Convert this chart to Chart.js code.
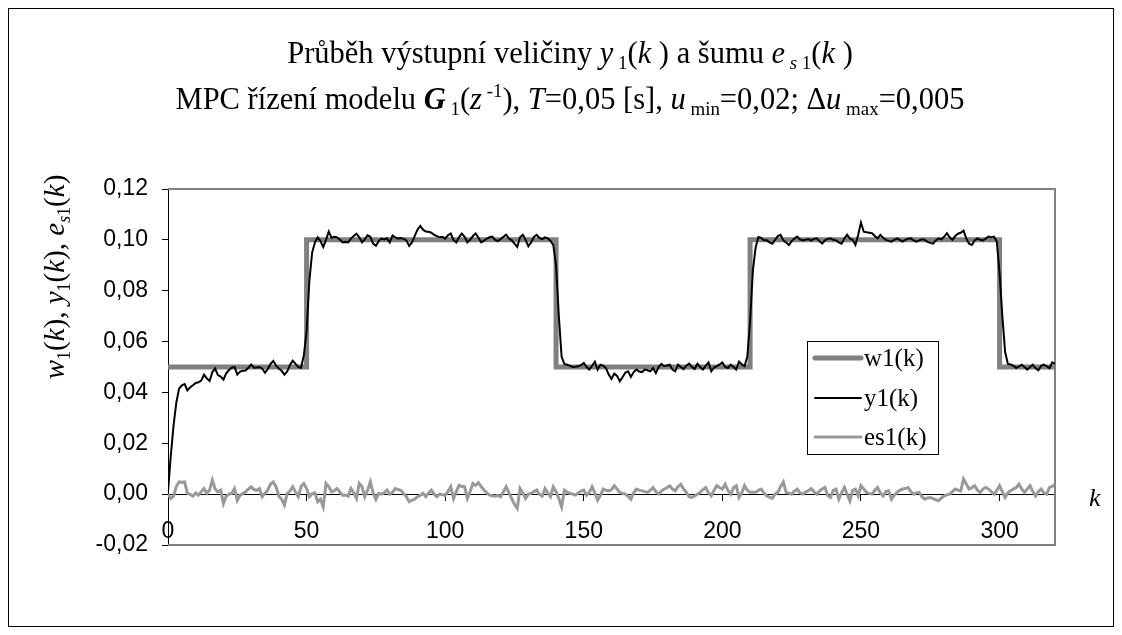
<!DOCTYPE html>
<html>
<head>
<meta charset="utf-8">
<script src="https://cdn.jsdelivr.net/npm/chart.js@4"></script>
<style>
  html, body { margin: 0; padding: 0; background: #fff; }
  #wrap { width: 1122px; height: 635px; }
</style>
</head>
<body>
<div id="wrap"><canvas id="c" width="1122" height="635"></canvas></div>
<script>
// Tick positions
const kAxisTicks = [0, 50, 100, 150, 200, 250, 300];
const yAxisTicks = [-0.02, 0, 0.02, 0.04, 0.06, 0.08, 0.10, 0.12];

// Setpoint w1(k): switching instants and levels
const w1StepK = [0, 50, 140, 210, 300, 320];
const w1Level = [0.05, 0.10, 0.05, 0.10, 0.05, 0.05];

// Output y1(k), k = 0..320
const y1 = [
  0.0010, 0.0150, 0.0270, 0.0360, 0.0415, 0.0428, 0.0433, 0.0408, 0.0420, 0.0428,
  0.0437, 0.0440, 0.0447, 0.0470, 0.0455, 0.0445, 0.0480, 0.0494, 0.0468, 0.0462,
  0.0450, 0.0475, 0.0488, 0.0497, 0.0500, 0.0470, 0.0482, 0.0485, 0.0486, 0.0497,
  0.0510, 0.0497, 0.0498, 0.0500, 0.0493, 0.0477, 0.0492, 0.0512, 0.0524, 0.0505,
  0.0494, 0.0485, 0.0470, 0.0482, 0.0508, 0.0525, 0.0512, 0.0500, 0.0497, 0.0545,
  0.0640, 0.0840, 0.0950, 0.0990, 0.1010, 0.0995, 0.0972, 0.1000, 0.1033, 0.1008,
  0.1012, 0.1010, 0.1000, 0.0990, 0.0992, 0.0990, 0.1005, 0.1015, 0.1024, 0.1010,
  0.0990, 0.1002, 0.1018, 0.1012, 0.0985, 0.0977, 0.0995, 0.1005, 0.1002, 0.1006,
  0.0990, 0.1017, 0.1010, 0.1005, 0.1007, 0.1004, 0.0998, 0.0976, 0.0990, 0.1015,
  0.1040, 0.1055, 0.1040, 0.1033, 0.1032, 0.1028, 0.1020, 0.1015, 0.1010, 0.1012,
  0.1005, 0.1018, 0.1025, 0.1000, 0.0990, 0.1010, 0.1025, 0.1012, 0.0990, 0.1000,
  0.1015, 0.1025, 0.1008, 0.0990, 0.0997, 0.1005, 0.1010, 0.1013, 0.1000, 0.0995,
  0.1003, 0.1012, 0.1020, 0.1005, 0.0998, 0.0985, 0.0972, 0.1010, 0.1020, 0.1000,
  0.0975, 0.0990, 0.1012, 0.1020, 0.1008, 0.1003, 0.1010, 0.1006, 0.0996, 0.0980,
  0.0900, 0.0700, 0.0540, 0.0512, 0.0509, 0.0505, 0.0500, 0.0501, 0.0503, 0.0507,
  0.0516, 0.0500, 0.0490, 0.0505, 0.0521, 0.0490, 0.0509, 0.0505, 0.0496, 0.0470,
  0.0453, 0.0474, 0.0465, 0.0444, 0.0460, 0.0478, 0.0483, 0.0461, 0.0480, 0.0490,
  0.0482, 0.0480, 0.0490, 0.0487, 0.0483, 0.0496, 0.0476, 0.0500, 0.0512, 0.0503,
  0.0506, 0.0509, 0.0490, 0.0483, 0.0509, 0.0500, 0.0492, 0.0505, 0.0513, 0.0500,
  0.0492, 0.0513, 0.0500, 0.0490, 0.0505, 0.0518, 0.0483, 0.0498, 0.0503, 0.0510,
  0.0518, 0.0500, 0.0496, 0.0509, 0.0500, 0.0490, 0.0521, 0.0510, 0.0503, 0.0540,
  0.0680, 0.0880, 0.0970, 0.1011, 0.1008, 0.0998, 0.0998, 0.0990, 0.0985, 0.1000,
  0.1015, 0.1020, 0.0998, 0.0990, 0.0980, 0.0995, 0.1005, 0.1013, 0.1002, 0.0998,
  0.1000, 0.1003, 0.0997, 0.1004, 0.1006, 0.0995, 0.0985, 0.0998, 0.1004, 0.1006,
  0.1000, 0.0998, 0.0990, 0.0985, 0.1005, 0.1020, 0.1005, 0.1000, 0.0980, 0.1020,
  0.1068, 0.1032, 0.1030, 0.1028, 0.1026, 0.1015, 0.1006, 0.1020, 0.1008, 0.1000,
  0.0996, 0.0993, 0.1000, 0.1006, 0.1000, 0.0993, 0.1000, 0.1004, 0.1006, 0.0998,
  0.0993, 0.0998, 0.1002, 0.1000, 0.0992, 0.0988, 0.0985, 0.0998, 0.1006, 0.1002,
  0.1012, 0.1026, 0.1010, 0.1000, 0.1015, 0.1024, 0.1028, 0.1036, 0.1005, 0.0985,
  0.0980, 0.0998, 0.1006, 0.1000, 0.0998, 0.1005, 0.1013, 0.1010, 0.1013, 0.0993,
  0.0870, 0.0700, 0.0560, 0.0512, 0.0510, 0.0505, 0.0496, 0.0502, 0.0509, 0.0500,
  0.0490, 0.0500, 0.0509, 0.0495, 0.0487, 0.0505, 0.0509, 0.0503, 0.0495, 0.0518,
  0.0512
];

// Measurement noise es1(k), k = 0..320
const es1 = [
  0.0000, -0.0017, -0.0008, 0.0030, 0.0048, 0.0047, 0.0048, 0.0003, -0.0001, -0.0008,
  0.0004, -0.0004, 0.0010, 0.0022, 0.0003, 0.0016, 0.0055, 0.0020, 0.0009, 0.0016,
  -0.0037, -0.0008, 0.0000, 0.0003, 0.0022, -0.0024, -0.0004, 0.0002, 0.0009, 0.0020,
  0.0029, 0.0018, 0.0015, 0.0022, -0.0010, 0.0004, 0.0016, 0.0040, 0.0048, 0.0029,
  -0.0008, -0.0020, -0.0043, 0.0003, 0.0012, 0.0029, 0.0008, -0.0010, 0.0030, 0.0042,
  0.0022, -0.0010, 0.0002, 0.0005, -0.0030, -0.0020, -0.0050, 0.0042, 0.0030, 0.0009,
  0.0014, 0.0022, 0.0008, -0.0004, -0.0003, -0.0008, 0.0022, 0.0006, -0.0017, 0.0042,
  0.0029, -0.0010, 0.0015, 0.0048, 0.0005, -0.0021, 0.0003, 0.0000, 0.0005, 0.0016,
  0.0000, 0.0008, 0.0022, 0.0018, 0.0015, 0.0003, -0.0010, -0.0030, -0.0024, -0.0020,
  -0.0010, -0.0005, 0.0003, -0.0010, 0.0004, 0.0016, 0.0000, -0.0010, 0.0000, -0.0002,
  -0.0004, 0.0010, 0.0029, -0.0017, 0.0010, 0.0035, 0.0030, 0.0029, -0.0017, 0.0010,
  0.0042, 0.0035, 0.0045, 0.0030, 0.0016, 0.0005, -0.0004, -0.0006, -0.0008, -0.0005,
  -0.0010, 0.0010, 0.0029, 0.0005, -0.0017, -0.0040, -0.0056, 0.0022, 0.0005, -0.0017,
  0.0000, 0.0003, 0.0010, 0.0016, 0.0000, -0.0008, 0.0022, 0.0005, -0.0010, 0.0029,
  0.0010, -0.0017, -0.0050, 0.0016, 0.0008, 0.0003, 0.0000, -0.0004, 0.0005, 0.0012,
  0.0016, -0.0004, 0.0007, 0.0029, 0.0005, -0.0024, -0.0005, 0.0020, 0.0015, 0.0013,
  0.0018, 0.0033, 0.0020, 0.0007, 0.0003, 0.0000, -0.0008, -0.0020, 0.0005, 0.0020,
  0.0016, 0.0013, 0.0010, 0.0007, 0.0015, 0.0026, 0.0010, 0.0000, 0.0012, 0.0020,
  0.0025, 0.0033, 0.0020, 0.0013, 0.0030, 0.0039, 0.0020, 0.0007, -0.0010, -0.0013,
  -0.0007, 0.0000, 0.0007, 0.0018, 0.0026, 0.0005, -0.0007, 0.0015, 0.0033, 0.0025,
  0.0020, 0.0039, 0.0015, 0.0000, 0.0025, 0.0033, -0.0013, 0.0005, 0.0033, 0.0015,
  0.0007, 0.0007, 0.0007, 0.0015, 0.0020, 0.0005, -0.0007, -0.0012, -0.0017, 0.0000,
  0.0007, 0.0030, 0.0048, 0.0007, 0.0004, 0.0000, 0.0012, 0.0020, 0.0005, 0.0000,
  0.0008, 0.0013, 0.0022, 0.0010, 0.0000, 0.0012, 0.0020, 0.0026, -0.0005, -0.0013,
  0.0015, 0.0020, -0.0020, 0.0005, 0.0026, 0.0000, -0.0026, 0.0015, 0.0020, -0.0007,
  0.0033, 0.0020, 0.0007, 0.0003, 0.0000, 0.0015, 0.0026, 0.0005, -0.0007, 0.0010,
  0.0013, -0.0020, -0.0005, 0.0007, 0.0015, 0.0020, 0.0022, 0.0026, 0.0010, 0.0000,
  0.0005, 0.0007, -0.0010, -0.0020, -0.0015, -0.0013, -0.0018, -0.0022, -0.0026, -0.0015,
  -0.0007, -0.0003, 0.0000, 0.0010, 0.0020, 0.0016, 0.0013, 0.0060, 0.0040, 0.0020,
  0.0025, 0.0033, 0.0015, 0.0007, 0.0020, 0.0026, 0.0020, 0.0010, 0.0000, 0.0015,
  0.0033, 0.0010, -0.0013, 0.0005, 0.0013, 0.0020, 0.0026, 0.0039, 0.0020, 0.0007,
  0.0020, 0.0033, 0.0010, -0.0007, 0.0010, 0.0020, 0.0005, 0.0000, 0.0026, 0.0030,
  0.0039
];

const seriesNames = ['w1(k)', 'y1(k)', 'es1(k)'];

const SERIF = '"Liberation Serif", "Times New Roman", serif';
const SANS = '"Liberation Sans", Arial, sans-serif';

// Rich-text helpers (italics, sub- and superscripts)
function fontOf(style, size) { return (style ? style + ' ' : '') + size + 'px ' + SERIF; }
function runsWidth(ctx, runs, base) {
  let w = 0;
  for (const r of runs) { ctx.font = fontOf(r.s, base * (r.z || 1)); w += ctx.measureText(r.t).width; }
  return w;
}
function drawRuns(ctx, runs, x, y, base) {
  let cx = x;
  for (const r of runs) {
    ctx.font = fontOf(r.s, base * (r.z || 1));
    ctx.fillText(r.t, cx, y + (r.dy || 0) * base);
    cx += ctx.measureText(r.t).width;
  }
}
const SUB = { z: 0.62, dy: 0.2 };
const SUP = { z: 0.62, dy: -0.4 };

const titleLine1 = [
  { t: 'Průběh výstupní veličiny ' }, { t: 'y', s: 'italic' }, { t: ' 1', ...SUB },
  { t: '(' }, { t: 'k', s: 'italic' }, { t: ' ) a šumu ' }, { t: 'e', s: 'italic' },
  { t: ' s', s: 'italic', ...SUB }, { t: ' 1', ...SUB }, { t: '(' }, { t: 'k', s: 'italic' }, { t: ' )' }
];
const titleLine2 = [
  { t: 'MPC řízení modelu ' }, { t: 'G', s: 'italic bold' }, { t: ' 1', ...SUB },
  { t: '(' }, { t: 'z', s: 'italic' }, { t: ' -1', ...SUP }, { t: '), ' },
  { t: 'T', s: 'italic' }, { t: '=0,05 [s], ' }, { t: 'u', s: 'italic' }, { t: ' min', ...SUB },
  { t: '=0,02; Δ' }, { t: 'u', s: 'italic' }, { t: ' max', ...SUB }, { t: '=0,005' }
];
const yTitle = [
  { t: 'w', s: 'italic' }, { t: '1', ...SUB }, { t: '(' }, { t: 'k', s: 'italic' }, { t: '), ' },
  { t: 'y', s: 'italic' }, { t: '1', ...SUB }, { t: '(' }, { t: 'k', s: 'italic' }, { t: '), ' },
  { t: 'e', s: 'italic' }, { t: 's', s: 'italic', ...SUB }, { t: '1', ...SUB }, { t: '(' }, { t: 'k', s: 'italic' }, { t: ')' }
];

const decor = {
  id: 'decor',
  beforeDraw(chart) {
    const ctx = chart.ctx;
    ctx.save();
    ctx.fillStyle = '#fff';
    ctx.fillRect(0, 0, chart.width, chart.height);
    ctx.strokeStyle = '#000';
    ctx.lineWidth = 1;
    ctx.strokeRect(8.5, 8.5, 1105, 618);
    ctx.restore();
  },
  beforeDatasetsDraw(chart) {
    const { ctx, chartArea: a } = chart;
    ctx.save();
    ctx.strokeStyle = '#808080';
    ctx.lineWidth = 2;
    ctx.beginPath();
    ctx.moveTo(a.left, a.top);
    ctx.lineTo(a.right, a.top);
    ctx.lineTo(a.right, a.bottom);
    ctx.lineTo(a.left, a.bottom);
    ctx.stroke();
    ctx.restore();
  },
  afterDraw(chart) {
    const ctx = chart.ctx;
    ctx.save();
    ctx.fillStyle = '#000';
    ctx.textBaseline = 'alphabetic';
    ctx.textAlign = 'left';

    // Two-line title
    const tBase = 30.5, cx = 570;
    drawRuns(ctx, titleLine1, cx - runsWidth(ctx, titleLine1, tBase) / 2, 63, tBase);
    drawRuns(ctx, titleLine2, cx - runsWidth(ctx, titleLine2, tBase) / 2, 109, tBase);

    // Rotated y-axis title
    const yBase = 29;
    ctx.save();
    ctx.translate(64, 277);
    ctx.rotate(-Math.PI / 2);
    drawRuns(ctx, yTitle, -runsWidth(ctx, yTitle, yBase) / 2, 0, yBase);
    ctx.restore();

    // k label next to the horizontal axis
    ctx.font = fontOf('italic', 26);
    ctx.textBaseline = 'middle';
    ctx.fillText('k', 1089, 499);

    // Legend box
    const lx = 807, ly = 341, lw = 131, lh = 113;
    ctx.fillStyle = '#fff';
    ctx.fillRect(lx, ly, lw, lh);
    ctx.strokeStyle = '#000';
    ctx.lineWidth = 1;
    ctx.strokeRect(lx + 0.5, ly + 0.5, lw, lh);
    const rows = [358, 398, 437];
    chart.data.datasets.forEach((ds, i) => {
      const yy = rows[i];
      ctx.strokeStyle = ds.borderColor;
      ctx.lineWidth = ds.borderWidth;
      ctx.lineCap = 'round';
      ctx.beginPath();
      ctx.moveTo(815, yy);
      ctx.lineTo(861, yy);
      ctx.stroke();
      ctx.fillStyle = '#000';
      ctx.font = fontOf('', 25);
      ctx.textBaseline = 'middle';
      ctx.fillText(ds.label, 864, yy + 1);
    });
    ctx.restore();
  }
};

const fmt = v => (Math.abs(v) < 1e-9 ? 0 : v).toFixed(2).replace('.', ',');

new Chart(document.getElementById('c'), {
  type: 'line',
  data: {
    datasets: [
      {
        label: seriesNames[0],
        data: w1StepK.map((k, i) => ({ x: k, y: w1Level[i] })),
        stepped: 'before',
        borderColor: '#808080',
        borderWidth: 5,
        pointRadius: 0,
        order: 3
      },
      {
        label: seriesNames[1],
        data: y1.map((v, k) => ({ x: k, y: v })),
        borderColor: '#000000',
        borderWidth: 2,
        pointRadius: 0,
        tension: 0,
        order: 1
      },
      {
        label: seriesNames[2],
        data: es1.map((v, k) => ({ x: k, y: v })),
        borderColor: '#999999',
        borderWidth: 3,
        pointRadius: 0,
        tension: 0,
        order: 2
      }
    ]
  },
  options: {
    responsive: false,
    animation: false,
    devicePixelRatio: 1,
    layout: { padding: { left: 0, top: 189, right: 67, bottom: 90 } },
    plugins: { legend: { display: false }, title: { display: false }, tooltip: { enabled: false } },
    scales: {
      x: {
        type: 'linear',
        min: 0,
        max: 320,
        position: { y: 0 },
        afterBuildTicks: s => { s.ticks = kAxisTicks.map(v => ({ value: v })); },
        ticks: { font: { family: SANS, size: 23 }, color: '#000', padding: 18, maxRotation: 0, autoSkip: false },
        grid: { drawOnChartArea: false, drawTicks: true, tickLength: 6, color: '#000', lineWidth: 1 },
        border: { display: true, color: '#000', width: 1 }
      },
      y: {
        type: 'linear',
        min: -0.02,
        max: 0.12,
        afterBuildTicks: s => { s.ticks = yAxisTicks.map(v => ({ value: v })); },
        afterFit: s => { s.width = 168; },
        ticks: { font: { family: SANS, size: 23 }, color: '#000', padding: 14, callback: fmt, autoSkip: false },
        grid: { drawOnChartArea: false, drawTicks: true, tickLength: 6, color: '#000', lineWidth: 1 },
        border: { display: true, color: '#000', width: 1 }
      }
    }
  },
  plugins: [decor]
});
</script>
</body>
</html>
